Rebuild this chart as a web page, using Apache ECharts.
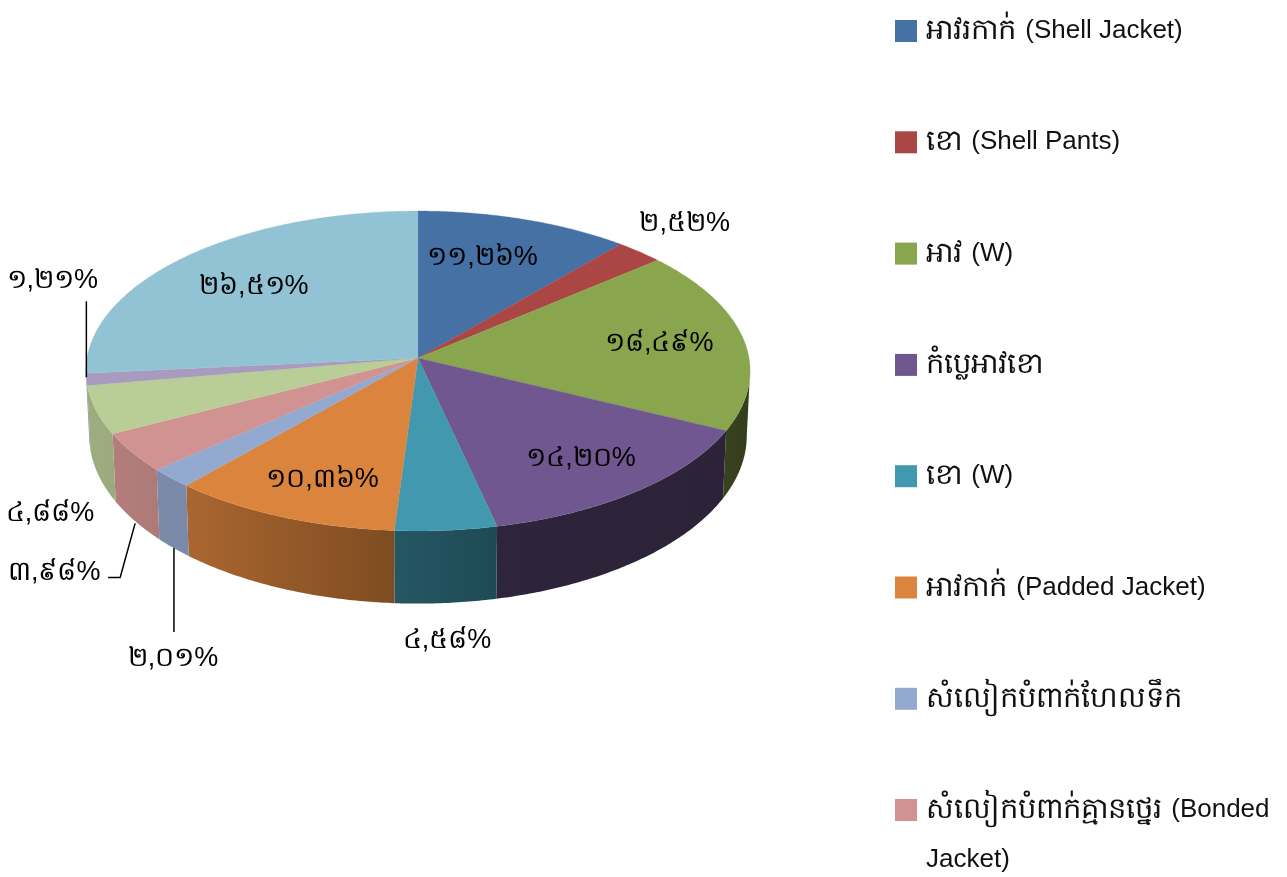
<!DOCTYPE html>
<html><head><meta charset="utf-8">
<style>html,body{margin:0;padding:0;background:#fff}#c{width:1287px;height:877px}</style>
<script src="https://cdn.jsdelivr.net/npm/echarts@6/dist/echarts.min.js"></script>
</head><body><div id="c"></div>
<script>
const categories = ['អាវរកាក់ (Shell Jacket)','ខោ (Shell Pants)','អាវ (W)','កំប្លេអាវខោ','ខោ (W)','អាវកាក់ (Padded Jacket)','សំលៀកបំពាក់ហែលទឹក','សំលៀកបំពាក់គ្មានថ្នេរ (Bonded\nJacket)','Series 9','Series 10','Series 11'];
const legendCount = 8;
const values = [11.26,2.52,18.49,14.20,4.58,10.36,2.01,3.98,4.88,1.21,26.51];
const valueLabels = ['១១,២៦%','២,៥២%','១៨,៤៩%','១៤,២០%','៤,៥៨%','១០,៣៦%','២,០១%','៣,៩៨%','៤,៨៨%','១,២១%','២៦,៥១%'];
const topColors = ['#4571A5','#AA4644','#89A54E','#71578F','#4198AF','#DB843D','#93A9CF','#D19392','#B9CD96','#A99BBD','#92C3D4'];
const sideColors = [['#334455','#334455'],['#7f3433','#7f3433'],['#3A4320','#343C1C'],['#2E243B','#2C2338'],['#245763','#1E4A54'],['#AA6630','#7E4C22'],['#7A8AA8','#7A8AA8'],['#B27D7B','#AE7A78'],['#9EAD7F','#9CAB7D'],['#8E82A0','#8E82A0'],['#77aabb','#77aabb']];
// label centre as pixel offset from the rim point at the slice's mid-angle
const labelOffsets = [[-42,38],[45,-28],[-84,5],[-56,-33],[1,110],[41,-37],[2,181],[-78,120],[-46,104],[-34,-99],[68,30]];
// leader polylines, same reference point
const leaders = {6:[[3,70],[3,154]],7:[[3,71],[-12,125],[-24,125]],9:[[0,-78],[0,-2]]};

// perspective disc geometry
const cx=418, cy=358, A=331, B=158.9, K=0.0812;
const XS=0.99, BS=1.05, BOTTOM_Y=422;
const total = values.reduce((a,b)=>a+b,0);
const starts=[]; values.reduce((a,v,i)=>(starts[i]=a,a+v),0);
const th = p => p/total*2*Math.PI;
function topPt(t,r=1){const X=Math.sin(t)*r,Y=Math.cos(t)*r,w=1+K*Y;return [cx+A*X/w,cy-B*Y/w];}
function botPt(t){const X=Math.sin(t),Y=Math.cos(t),w=1+K*Y;return [cx+XS*A*X/w,BOTTOM_Y-BS*B*Y/w];}
const wallFrom=Math.acos(-K), wallTo=2*Math.PI-Math.acos(-K);
function arc(fn,a,b){const n=Math.max(2,Math.ceil(Math.abs(b-a)/0.01));const o=[];for(let i=0;i<=n;i++)o.push(fn(a+(b-a)*i/n));return o;}

function render(i){
  return function(params,api){
    const v=api.value(0), a=th(starts[i]), b=th(starts[i]+v), mid=(a+b)/2;
    const kids=[];
    const wa=Math.max(a,wallFrom), wb=Math.min(b,wallTo);
    if(wb>wa){
      const t=arc(topPt,wa,wb), q=arc(botPt,wb,wa);
      kids.push({type:'polygon',z2:1,shape:{points:t.concat(q)},
        style:{fill:new echarts.graphic.LinearGradient(0,0,1,0,[{offset:0,color:sideColors[i][0]},{offset:1,color:sideColors[i][1]}]),stroke:null}});
    }
    const pts=[[cx,cy]].concat(arc(topPt,a,b));
    kids.push({type:'polygon',z2:2,shape:{points:pts},style:{fill:topColors[i],stroke:topColors[i],lineWidth:0.3}});
    const rim=topPt(mid);
    if(leaders[i]){
      kids.push({type:'polyline',z2:3,shape:{points:leaders[i].map(o=>[rim[0]+o[0],rim[1]+o[1]])},style:{fill:null,stroke:'#000',lineWidth:1.5}});
    }
    kids.push({type:'text',z2:4,style:{text:valueLabels[i],x:rim[0]+labelOffsets[i][0],y:rim[1]+labelOffsets[i][1],align:'center',verticalAlign:'middle',
      fill:'#000',font:'27px "Liberation Sans",sans-serif'}});
    return {type:'group',children:kids};
  };
}
function legendText(n){
  const p=n.indexOf('(');
  if(p<0) return '{k|'+n+'}';
  const head='{k|'+n.slice(0,p).trim()+'}{l| '+n.slice(p).split('\n')[0]+'}';
  const tail=n.split('\n')[1];
  return tail?'\n'+head+'\n{l|'+tail+'}':head;
}
const legendBase={
  orient:'vertical',left:895,height:1400,padding:0,itemWidth:22,itemHeight:22,itemGap:61.3,
  selectedMode:false,formatter:legendText,
  textStyle:{fontFamily:'"Liberation Sans",sans-serif',fontSize:26,lineHeight:50,color:'#111',padding:[0,0,0,4],
    rich:{k:{fontFamily:'"Liberation Sans",sans-serif',fontSize:29,lineHeight:50,color:'#111',padding:[0,2,0,0]},
          l:{fontFamily:'"Liberation Sans",sans-serif',fontSize:26,lineHeight:50,color:'#111'}}}
};
const legendItem=n=>({name:n,icon:'rect'});

const chart=echarts.init(document.getElementById('c'),null,{renderer:'canvas'});
chart.setOption({
  animation:false,
  backgroundColor:'#fff',
  // the two-line last entry gets its own legend so its symbol stays on the first line
  legend:[
    Object.assign({},legendBase,{top:6,data:categories.slice(0,legendCount-1).map(legendItem)}),
    Object.assign({},legendBase,{top:735,data:categories.slice(legendCount-1,legendCount).map(legendItem)})
  ],
  series:values.map((v,i)=>({
    type:'custom',name:categories[i],coordinateSystem:'none',silent:true,
    itemStyle:{color:topColors[i]},
    data:[[v]],renderItem:render(i)
  }))
});
</script></body></html>
